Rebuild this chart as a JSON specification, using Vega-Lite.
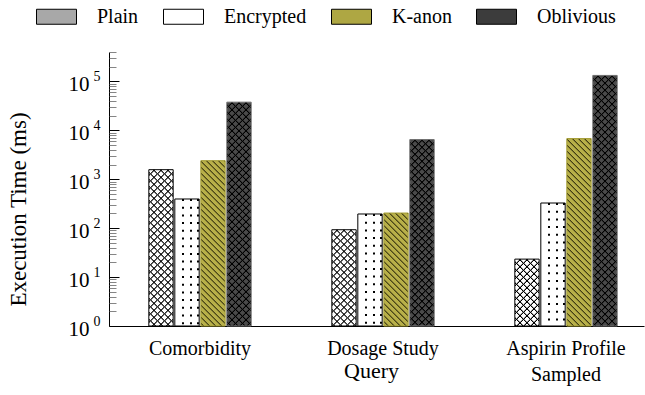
{
  "$schema": "https://vega.github.io/schema/vega-lite/v6.json",
  "width": 535,
  "height": 274,
  "autosize": {"type": "none"},
  "padding": {"left": 109, "top": 52, "right": 1, "bottom": 69},
  "background": "white",
  "config": {
    "font": "Liberation Serif",
    "view": {"stroke": null},
    "axis": {"labelColor": "#000", "titleColor": "#000", "domainColor": "#000", "tickColor": "#000", "grid": false, "titleFontWeight": "normal", "labelFont": "Liberation Serif", "titleFont": "Liberation Serif"},
    "legend": {"labelColor": "#000", "labelFont": "Liberation Serif"},
    "rule": {"color": "#000", "strokeWidth": 1, "strokeDash": [1.4, 5.6]}
  },
  "data": {"values": [
    {"query": "Comorbidity", "method": "Plain", "ms": 1570},
    {"query": "Comorbidity", "method": "Encrypted", "ms": 395},
    {"query": "Comorbidity", "method": "K-anon", "ms": 2400},
    {"query": "Comorbidity", "method": "Oblivious", "ms": 37700},
    {"query": "Dosage Study", "method": "Plain", "ms": 93},
    {"query": "Dosage Study", "method": "Encrypted", "ms": 195},
    {"query": "Dosage Study", "method": "K-anon", "ms": 204},
    {"query": "Dosage Study", "method": "Oblivious", "ms": 6480},
    {"query": "Aspirin Profile Sampled", "method": "Plain", "ms": 23.3},
    {"query": "Aspirin Profile Sampled", "method": "Encrypted", "ms": 327},
    {"query": "Aspirin Profile Sampled", "method": "K-anon", "ms": 6790},
    {"query": "Aspirin Profile Sampled", "method": "Oblivious", "ms": 132700}
  ]},
  "encoding": {
    "x": {
      "field": "query", "type": "nominal",
      "sort": ["Comorbidity", "Dosage Study", "Aspirin Profile Sampled"],
      "scale": {"paddingInner": 0.4407, "paddingOuter": 0.1821, "align": 0.5975},
      "axis": {
        "orient": "bottom", "labelAngle": 0, "labelFontSize": 20, "labelPadding": 12, "labelLineHeight": 26,
        "ticks": false,
        "labelExpr": "datum.value == 'Aspirin Profile Sampled' ? ['Aspirin Profile', 'Sampled'] : datum.label",
        "title": "Query", "titleFontSize": 22, "titleX": 262, "titleY": 51, "titleBaseline": "alphabetic"
      }
    },
    "y": {"field": "ms", "type": "quantitative", "scale": {"type": "log", "domain": [1, 400000]}, "axis": null},
    "y2": {"datum": 1}
  },
  "layer": [
    {
      "mark": {"type": "bar"},
      "encoding": {
        "xOffset": {"field": "method", "type": "nominal", "sort": ["Plain", "Encrypted", "K-anon", "Oblivious"], "scale": {"paddingInner": 0.0635, "paddingOuter": 0}},
        "y": {
          "field": "ms", "type": "quantitative", "scale": {"type": "log", "domain": [1, 400000]},
          "axis": {
            "orient": "left", "values": [1, 10, 100, 1000, 10000, 100000], "labelExpr": "'10'",
            "labelFontSize": 21, "labelPadding": 20, "labelOffset": 3, "ticks": false, "domain": true, "labelOverlap": false,
            "title": "Execution Time (ms)", "titleFontSize": 23, "titleAngle": -90, "titleX": -84, "titleY": 157,
            "titleAlign": "center", "titleBaseline": "alphabetic"
          }
        },
        "fill": {
          "field": "method", "type": "nominal",
          "sort": ["Plain", "Encrypted", "K-anon", "Oblivious"],
          "scale": {"domain": ["Plain", "Encrypted", "K-anon", "Oblivious"], "range": ["#a8a8a8", "#ffffff", "#aea743", "#3c3c3c"]},
          "condition": [
            {"test": "datum.method === 'Plain'", "value": "#ffffff"},
            {"test": "datum.method === 'K-anon'", "value": "#b8b049"},
            {"test": "datum.method === 'Oblivious'", "value": "#4a4a4a"}
          ],
          "legend": {
            "orient": "none", "legendX": -73, "legendY": -56, "direction": "horizontal", "columns": 4, "title": null,
            "symbolType": "M-1,-0.375H1V0.375H-1Z", "symbolSize": 1600, "symbolStrokeColor": "#000", "symbolStrokeWidth": 1,
            "labelFontSize": 20, "labelOffset": 20, "columnPadding": 22, "labelLimit": 200
          }
        }
      }
    },
    {
      "encoding": {
        "y": {
          "field": "ms", "type": "quantitative", "scale": {"type": "log", "domain": [1, 400000]},
          "axis": {"orient": "left", "values": [1, 10, 100, 1000, 10000, 100000], "labels": false, "domain": false, "ticks": true, "tickSize": -10, "tickWidth": 1, "tickColor": "#000", "title": null}
        }
      },
      "layer": [
        {
          "transform": [{"filter": {"field": "method", "equal": "Plain"}}],
          "layer": [
            {"mark": {"type": "rule", "xOffset": -50.5, "strokeDashOffset": 4.5}},
            {"mark": {"type": "rule", "xOffset": -50.5, "strokeDashOffset": 2.5}},
            {"mark": {"type": "rule", "xOffset": -49.5, "strokeDashOffset": 3.5}},
            {"mark": {"type": "rule", "xOffset": -48.5, "strokeDashOffset": 2.5}},
            {"mark": {"type": "rule", "xOffset": -48.5, "strokeDashOffset": 4.5}},
            {"mark": {"type": "rule", "xOffset": -47.5, "strokeDashOffset": 1.5}},
            {"mark": {"type": "rule", "xOffset": -47.5, "strokeDashOffset": 5.5}},
            {"mark": {"type": "rule", "xOffset": -46.5, "strokeDashOffset": 0.5}},
            {"mark": {"type": "rule", "xOffset": -46.5, "strokeDashOffset": 6.5}},
            {"mark": {"type": "rule", "xOffset": -45.5, "strokeDashOffset": 6.5}},
            {"mark": {"type": "rule", "xOffset": -45.5, "strokeDashOffset": 0.5}},
            {"mark": {"type": "rule", "xOffset": -44.5, "strokeDashOffset": 5.5}},
            {"mark": {"type": "rule", "xOffset": -44.5, "strokeDashOffset": 1.5}},
            {"mark": {"type": "rule", "xOffset": -43.5, "strokeDashOffset": 4.5}},
            {"mark": {"type": "rule", "xOffset": -43.5, "strokeDashOffset": 2.5}},
            {"mark": {"type": "rule", "xOffset": -42.5, "strokeDashOffset": 3.5}},
            {"mark": {"type": "rule", "xOffset": -41.5, "strokeDashOffset": 2.5}},
            {"mark": {"type": "rule", "xOffset": -41.5, "strokeDashOffset": 4.5}},
            {"mark": {"type": "rule", "xOffset": -40.5, "strokeDashOffset": 1.5}},
            {"mark": {"type": "rule", "xOffset": -40.5, "strokeDashOffset": 5.5}},
            {"mark": {"type": "rule", "xOffset": -39.5, "strokeDashOffset": 0.5}},
            {"mark": {"type": "rule", "xOffset": -39.5, "strokeDashOffset": 6.5}},
            {"mark": {"type": "rule", "xOffset": -38.5, "strokeDashOffset": 6.5}},
            {"mark": {"type": "rule", "xOffset": -38.5, "strokeDashOffset": 0.5}},
            {"mark": {"type": "rule", "xOffset": -37.5, "strokeDashOffset": 5.5}},
            {"mark": {"type": "rule", "xOffset": -37.5, "strokeDashOffset": 1.5}},
            {"mark": {"type": "rule", "xOffset": -36.5, "strokeDashOffset": 4.5}},
            {"mark": {"type": "rule", "xOffset": -36.5, "strokeDashOffset": 2.5}},
            {"mark": {"type": "rule", "xOffset": -35.5, "strokeDashOffset": 3.5}},
            {"mark": {"type": "rule", "xOffset": -34.5, "strokeDashOffset": 2.5}},
            {"mark": {"type": "rule", "xOffset": -34.5, "strokeDashOffset": 4.5}},
            {"mark": {"type": "rule", "xOffset": -33.5, "strokeDashOffset": 1.5}},
            {"mark": {"type": "rule", "xOffset": -33.5, "strokeDashOffset": 5.5}},
            {"mark": {"type": "rule", "xOffset": -32.5, "strokeDashOffset": 0.5}},
            {"mark": {"type": "rule", "xOffset": -32.5, "strokeDashOffset": 6.5}},
            {"mark": {"type": "rule", "xOffset": -31.5, "strokeDashOffset": 6.5}},
            {"mark": {"type": "rule", "xOffset": -31.5, "strokeDashOffset": 0.5}},
            {"mark": {"type": "rule", "xOffset": -30.5, "strokeDashOffset": 5.5}},
            {"mark": {"type": "rule", "xOffset": -30.5, "strokeDashOffset": 1.5}},
            {"mark": {"type": "rule", "xOffset": -29.5, "strokeDashOffset": 4.5}},
            {"mark": {"type": "rule", "xOffset": -29.5, "strokeDashOffset": 2.5}},
            {"mark": {"type": "rule", "xOffset": -28.5, "strokeDashOffset": 3.5}},
            {"mark": {"type": "rule", "xOffset": -27.5, "strokeDashOffset": 2.5}},
            {"mark": {"type": "rule", "xOffset": -27.5, "strokeDashOffset": 4.5}}
          ]
        },
        {
          "transform": [{"filter": {"field": "method", "equal": "Oblivious"}}],
          "layer": [
            {"mark": {"type": "rule", "xOffset": 27.5, "strokeDashOffset": 4.5}},
            {"mark": {"type": "rule", "xOffset": 27.5, "strokeDashOffset": 2.5}},
            {"mark": {"type": "rule", "xOffset": 28.5, "strokeDashOffset": 3.5}},
            {"mark": {"type": "rule", "xOffset": 29.5, "strokeDashOffset": 2.5}},
            {"mark": {"type": "rule", "xOffset": 29.5, "strokeDashOffset": 4.5}},
            {"mark": {"type": "rule", "xOffset": 30.5, "strokeDashOffset": 1.5}},
            {"mark": {"type": "rule", "xOffset": 30.5, "strokeDashOffset": 5.5}},
            {"mark": {"type": "rule", "xOffset": 31.5, "strokeDashOffset": 0.5}},
            {"mark": {"type": "rule", "xOffset": 31.5, "strokeDashOffset": 6.5}},
            {"mark": {"type": "rule", "xOffset": 32.5, "strokeDashOffset": 6.5}},
            {"mark": {"type": "rule", "xOffset": 32.5, "strokeDashOffset": 0.5}},
            {"mark": {"type": "rule", "xOffset": 33.5, "strokeDashOffset": 5.5}},
            {"mark": {"type": "rule", "xOffset": 33.5, "strokeDashOffset": 1.5}},
            {"mark": {"type": "rule", "xOffset": 34.5, "strokeDashOffset": 4.5}},
            {"mark": {"type": "rule", "xOffset": 34.5, "strokeDashOffset": 2.5}},
            {"mark": {"type": "rule", "xOffset": 35.5, "strokeDashOffset": 3.5}},
            {"mark": {"type": "rule", "xOffset": 36.5, "strokeDashOffset": 2.5}},
            {"mark": {"type": "rule", "xOffset": 36.5, "strokeDashOffset": 4.5}},
            {"mark": {"type": "rule", "xOffset": 37.5, "strokeDashOffset": 1.5}},
            {"mark": {"type": "rule", "xOffset": 37.5, "strokeDashOffset": 5.5}},
            {"mark": {"type": "rule", "xOffset": 38.5, "strokeDashOffset": 0.5}},
            {"mark": {"type": "rule", "xOffset": 38.5, "strokeDashOffset": 6.5}},
            {"mark": {"type": "rule", "xOffset": 39.5, "strokeDashOffset": 6.5}},
            {"mark": {"type": "rule", "xOffset": 39.5, "strokeDashOffset": 0.5}},
            {"mark": {"type": "rule", "xOffset": 40.5, "strokeDashOffset": 5.5}},
            {"mark": {"type": "rule", "xOffset": 40.5, "strokeDashOffset": 1.5}},
            {"mark": {"type": "rule", "xOffset": 41.5, "strokeDashOffset": 4.5}},
            {"mark": {"type": "rule", "xOffset": 41.5, "strokeDashOffset": 2.5}},
            {"mark": {"type": "rule", "xOffset": 42.5, "strokeDashOffset": 3.5}},
            {"mark": {"type": "rule", "xOffset": 43.5, "strokeDashOffset": 2.5}},
            {"mark": {"type": "rule", "xOffset": 43.5, "strokeDashOffset": 4.5}},
            {"mark": {"type": "rule", "xOffset": 44.5, "strokeDashOffset": 1.5}},
            {"mark": {"type": "rule", "xOffset": 44.5, "strokeDashOffset": 5.5}},
            {"mark": {"type": "rule", "xOffset": 45.5, "strokeDashOffset": 0.5}},
            {"mark": {"type": "rule", "xOffset": 45.5, "strokeDashOffset": 6.5}},
            {"mark": {"type": "rule", "xOffset": 46.5, "strokeDashOffset": 6.5}},
            {"mark": {"type": "rule", "xOffset": 46.5, "strokeDashOffset": 0.5}},
            {"mark": {"type": "rule", "xOffset": 47.5, "strokeDashOffset": 5.5}},
            {"mark": {"type": "rule", "xOffset": 47.5, "strokeDashOffset": 1.5}},
            {"mark": {"type": "rule", "xOffset": 48.5, "strokeDashOffset": 4.5}},
            {"mark": {"type": "rule", "xOffset": 48.5, "strokeDashOffset": 2.5}},
            {"mark": {"type": "rule", "xOffset": 49.5, "strokeDashOffset": 3.5}},
            {"mark": {"type": "rule", "xOffset": 50.5, "strokeDashOffset": 2.5}},
            {"mark": {"type": "rule", "xOffset": 50.5, "strokeDashOffset": 4.5}}
          ]
        },
        {
          "transform": [{"filter": {"field": "method", "equal": "K-anon"}}],
          "layer": [
            {"mark": {"type": "rule", "xOffset": 1.5, "strokeDashOffset": 5.5, "color": "#35320f", "strokeDash": [1.3, 4.7]}},
            {"mark": {"type": "rule", "xOffset": 2.5, "strokeDashOffset": 4.5, "color": "#35320f", "strokeDash": [1.3, 4.7]}},
            {"mark": {"type": "rule", "xOffset": 3.5, "strokeDashOffset": 3.5, "color": "#35320f", "strokeDash": [1.3, 4.7]}},
            {"mark": {"type": "rule", "xOffset": 4.5, "strokeDashOffset": 2.5, "color": "#35320f", "strokeDash": [1.3, 4.7]}},
            {"mark": {"type": "rule", "xOffset": 5.5, "strokeDashOffset": 1.5, "color": "#35320f", "strokeDash": [1.3, 4.7]}},
            {"mark": {"type": "rule", "xOffset": 6.5, "strokeDashOffset": 0.5, "color": "#35320f", "strokeDash": [1.3, 4.7]}},
            {"mark": {"type": "rule", "xOffset": 7.5, "strokeDashOffset": 5.5, "color": "#35320f", "strokeDash": [1.3, 4.7]}},
            {"mark": {"type": "rule", "xOffset": 8.5, "strokeDashOffset": 4.5, "color": "#35320f", "strokeDash": [1.3, 4.7]}},
            {"mark": {"type": "rule", "xOffset": 9.5, "strokeDashOffset": 3.5, "color": "#35320f", "strokeDash": [1.3, 4.7]}},
            {"mark": {"type": "rule", "xOffset": 10.5, "strokeDashOffset": 2.5, "color": "#35320f", "strokeDash": [1.3, 4.7]}},
            {"mark": {"type": "rule", "xOffset": 11.5, "strokeDashOffset": 1.5, "color": "#35320f", "strokeDash": [1.3, 4.7]}},
            {"mark": {"type": "rule", "xOffset": 12.5, "strokeDashOffset": 0.5, "color": "#35320f", "strokeDash": [1.3, 4.7]}},
            {"mark": {"type": "rule", "xOffset": 13.5, "strokeDashOffset": 5.5, "color": "#35320f", "strokeDash": [1.3, 4.7]}},
            {"mark": {"type": "rule", "xOffset": 14.5, "strokeDashOffset": 4.5, "color": "#35320f", "strokeDash": [1.3, 4.7]}},
            {"mark": {"type": "rule", "xOffset": 15.5, "strokeDashOffset": 3.5, "color": "#35320f", "strokeDash": [1.3, 4.7]}},
            {"mark": {"type": "rule", "xOffset": 16.5, "strokeDashOffset": 2.5, "color": "#35320f", "strokeDash": [1.3, 4.7]}},
            {"mark": {"type": "rule", "xOffset": 17.5, "strokeDashOffset": 1.5, "color": "#35320f", "strokeDash": [1.3, 4.7]}},
            {"mark": {"type": "rule", "xOffset": 18.5, "strokeDashOffset": 0.5, "color": "#35320f", "strokeDash": [1.3, 4.7]}},
            {"mark": {"type": "rule", "xOffset": 19.5, "strokeDashOffset": 5.5, "color": "#35320f", "strokeDash": [1.3, 4.7]}},
            {"mark": {"type": "rule", "xOffset": 20.5, "strokeDashOffset": 4.5, "color": "#35320f", "strokeDash": [1.3, 4.7]}},
            {"mark": {"type": "rule", "xOffset": 21.5, "strokeDashOffset": 3.5, "color": "#35320f", "strokeDash": [1.3, 4.7]}},
            {"mark": {"type": "rule", "xOffset": 22.5, "strokeDashOffset": 2.5, "color": "#35320f", "strokeDash": [1.3, 4.7]}},
            {"mark": {"type": "rule", "xOffset": 23.5, "strokeDashOffset": 1.5, "color": "#35320f", "strokeDash": [1.3, 4.7]}},
            {"mark": {"type": "rule", "xOffset": 24.5, "strokeDashOffset": 0.5, "color": "#35320f", "strokeDash": [1.3, 4.7]}}
          ]
        }
      ]
    },
    {
      "transform": [{"filter": {"field": "method", "equal": "Encrypted"}}],
      "encoding": {
        "y": {
          "field": "ms", "type": "quantitative", "scale": {"type": "log", "domain": [1, 400000]},
          "axis": {
            "orient": "left",
            "values": [2, 3, 4, 5, 6, 7, 8, 9, 20, 30, 40, 50, 60, 70, 80, 90, 200, 300, 400, 500, 600, 700, 800, 900, 2000, 3000, 4000, 5000, 6000, 7000, 8000, 9000, 20000, 30000, 40000, 50000, 60000, 70000, 80000, 90000, 200000, 300000, 400000],
            "labels": false, "domain": false, "ticks": true, "tickSize": -7, "tickWidth": 0.8, "tickColor": "#666", "title": null
          }
        }
      },
      "layer": [
        {"mark": {"type": "rule", "xOffset": -17, "strokeWidth": 2, "strokeDash": [2, 5.7], "strokeDashOffset": 0}},
        {"mark": {"type": "rule", "xOffset": -9, "strokeWidth": 2, "strokeDash": [2, 5.7], "strokeDashOffset": 0}},
        {"mark": {"type": "rule", "xOffset": -2, "strokeWidth": 2, "strokeDash": [2, 5.7], "strokeDashOffset": 0}}
      ]
    },
    {
      "mark": {"type": "bar", "fillOpacity": 0, "strokeWidth": 1},
      "encoding": {
        "xOffset": {"field": "method", "type": "nominal", "sort": ["Plain", "Encrypted", "K-anon", "Oblivious"], "scale": {"paddingInner": 0.0635, "paddingOuter": 0}},
        "y": {
          "field": "ms", "type": "quantitative", "scale": {"type": "log", "domain": [1, 400000]},
          "axis": {
            "orient": "left", "values": [1, 10, 100, 1000, 10000, 100000],
            "labelExpr": "'' + round(log(datum.value) / LN10)",
            "labelFontSize": 14, "labelPadding": 9, "labelOffset": -5, "ticks": false, "domain": false, "labelOverlap": false, "title": null
          }
        },
        "stroke": {
          "condition": [
            {"test": "datum.method === 'K-anon'", "value": "#a39c35"},
            {"test": "datum.method === 'Oblivious'", "value": "#707070"}
          ],
          "value": "#000"
        }
      }
    }
  ],
  "resolve": {"axis": {"y": "independent"}}
}
